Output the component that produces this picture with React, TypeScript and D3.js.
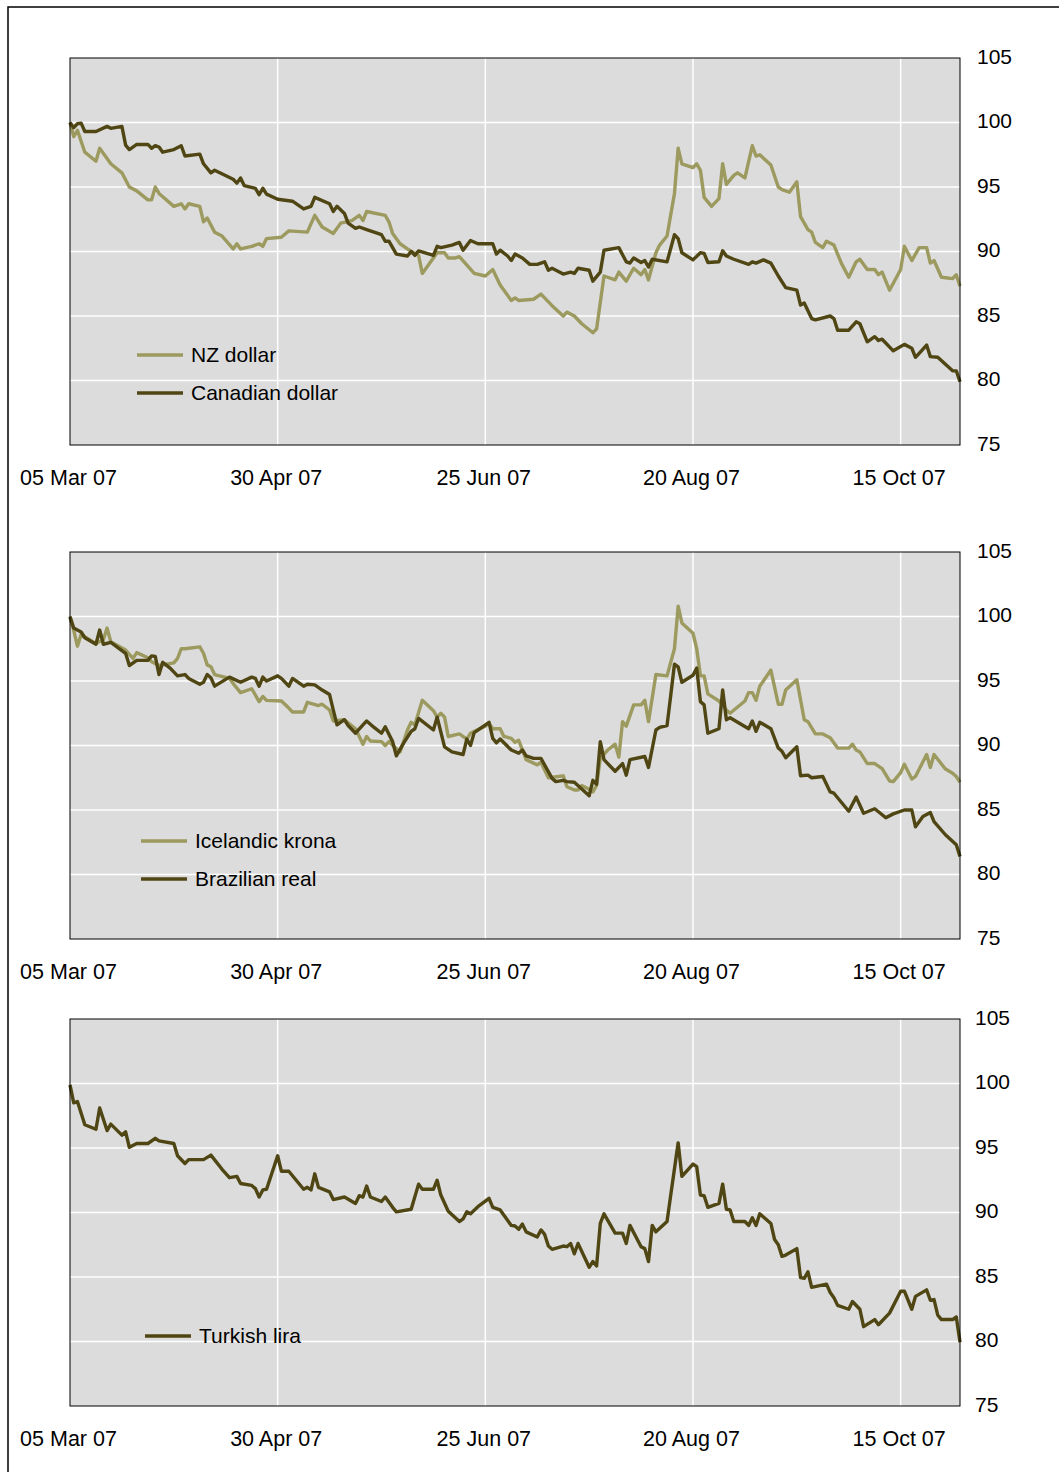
import { useEffect, useRef } from 'react'
import * as d3 from 'd3'

type Point = [number, number]   // [days after 05 Mar 07, index level]

const START = Date.UTC(2007, 2, 5)
const END_DAYS = 240
const X_TICK_DAYS = [0, 56, 112, 168, 224]
const Y_TICKS = [75, 80, 85, 90, 95, 100, 105]

const nzDollar: Point[] = [
  [0,100],[1,98.9],[2,99.4],[4,97.7],[7,97.0],[8,98.0],[11,96.8],[14,96.1],[16,95.0],[18,94.7],
  [21,94.0],[22,94.0],[23,95.0],[24,94.5],[28,93.5],[30,93.7],[31,93.3],[32,93.7],[35,93.5],[36,92.3],
  [37,92.6],[39,91.5],[41,91.2],[44,90.2],[45,90.6],[46,90.2],[49,90.4],[51,90.6],[52,90.4],[53,91.0],
  [57,91.1],[59,91.6],[64,91.5],[66,92.8],[68,91.9],[71,91.4],[73,92.2],[76,92.4],[78,92.8],[79,92.4],
  [80,93.1],[85,92.8],[86,92.3],[87,91.4],[89,90.6],[91,90.2],[94,89.7],[95,88.3],[99,89.9],[101,89.9],
  [102,89.5],[104,89.5],[105,89.6],[109,88.3],[112,88.1],[114,88.6],[116,87.4],[119,86.2],[120,86.4],[121,86.2],
  [125,86.3],[127,86.7],[130,85.8],[133,85.0],[134,85.3],[136,85.0],[138,84.4],[141,83.7],[142,84.0],[144,88.1],
  [147,87.8],[148,88.4],[150,87.7],[152,88.7],[154,88.2],[155,88.6],[156,87.8],[158,89.9],[159,90.5],[161,91.2],
  [163,94.5],[164,98.0],[165,96.8],[168,96.5],[169,96.8],[170,96.3],[171,94.2],[173,93.5],[175,94.1],[176,96.8],
  [177,95.2],[179,95.9],[180,96.1],[182,95.7],[184,98.2],[185,97.4],[186,97.5],[189,96.7],[191,95.0],[192,94.8],
  [194,94.6],[196,95.4],[197,92.7],[199,91.7],[200,91.5],[201,90.7],[203,90.3],[204,90.8],[206,90.5],[208,89.1],
  [210,88.0],[212,89.2],[213,89.4],[215,88.6],[217,88.6],[218,88.2],[219,88.4],[221,87.0],[224,88.6],[225,90.4],
  [227,89.3],[229,90.3],[231,90.3],[232,89.1],[233,89.3],[235,88.0],[238,87.9],[239,88.2],[240,87.3],
]

const canadianDollar: Point[] = [
  [0,100],[1,99.6],[2,99.9],[3,99.95],[4,99.3],[7,99.3],[10,99.7],[11,99.55],[14,99.7],[15,98.25],
  [16,97.9],[18,98.3],[21,98.3],[22,98.0],[23,98.2],[24,98.1],[25,97.7],[28,97.9],[30,98.2],[31,97.4],
  [35,97.55],[36,96.8],[38,96.1],[39,96.3],[44,95.6],[45,95.3],[46,95.7],[47,95.1],[50,94.9],[51,94.4],
  [52,94.9],[53,94.45],[56,94.05],[60,93.9],[63,93.3],[65,93.5],[66,94.2],[70,93.7],[71,93.1],[72,93.5],
  [74,92.95],[75,92.2],[77,91.8],[78,91.9],[80,91.7],[84,91.3],[85,90.8],[86,90.8],[88,89.8],[91,89.65],
  [92,90.0],[93,89.7],[94,90.05],[98,89.7],[99,90.4],[100,90.3],[103,90.5],[105,90.7],[106,90.1],[108,90.85],
  [110,90.6],[114,90.6],[115,89.8],[116,90.1],[118,89.65],[119,89.3],[120,89.8],[122,89.5],[124,89.0],[126,89.0],
  [128,89.2],[129,88.55],[130,88.7],[133,88.25],[135,88.4],[136,88.3],[137,88.7],[140,88.55],[141,87.7],[143,88.4],
  [144,90.1],[148,90.3],[150,89.2],[151,89.1],[152,89.5],[154,89.15],[155,89.3],[156,88.8],[157,89.4],[161,89.2],
  [163,91.3],[164,91.0],[165,89.9],[168,89.35],[170,89.9],[171,89.85],[172,89.15],[175,89.2],[176,90.05],[177,89.65],
  [179,89.4],[183,89.0],[184,89.2],[185,89.1],[187,89.35],[189,89.1],[191,88.1],[193,87.2],[196,87.0],[197,85.85],
  [198,86.0],[200,84.8],[201,84.7],[205,85.0],[206,84.8],[207,83.9],[210,83.9],[212,84.55],[213,84.4],[215,83.0],
  [217,83.4],[218,83.1],[219,83.2],[222,82.3],[225,82.8],[227,82.5],[228,81.8],[231,82.75],[232,81.85],[234,81.8],
  [238,80.75],[239,80.75],[240,79.9],
]

const icelandicKrona: Point[] = [
  [0,99.9],[1,98.95],[2,97.7],[3,98.6],[7,97.9],[9,98.2],[10,99.1],[11,98.05],[15,97.4],[17,96.75],
  [18,97.2],[21,96.8],[22,96.5],[24,96.2],[28,96.4],[29,96.75],[30,97.5],[31,97.5],[35,97.65],[36,97.15],
  [37,96.25],[38,96.1],[39,95.5],[43,95.2],[44,94.8],[46,94.1],[49,94.4],[51,93.4],[52,93.8],[53,93.5],
  [57,93.45],[59,92.9],[60,92.6],[63,92.6],[64,93.35],[67,93.1],[68,93.2],[70,92.75],[71,91.9],[74,92.0],
  [77,91.3],[79,90.1],[80,90.7],[81,90.35],[84,90.3],[85,90.0],[86,90.3],[89,89.5],[91,91.2],[92,91.8],
  [93,91.6],[95,93.5],[98,92.7],[99,92.2],[100,92.5],[101,92.2],[102,90.7],[105,90.9],[107,90.5],[108,90.95],
  [112,91.5],[113,91.7],[114,91.3],[116,91.3],[117,90.7],[119,90.55],[120,90.25],[121,90.4],[123,88.9],[126,88.5],
  [127,88.7],[129,87.5],[133,87.65],[134,86.8],[136,86.55],[137,86.55],[138,86.9],[140,86.6],[141,86.4],[142,86.9],
  [143,89.0],[145,89.65],[147,90.1],[148,89.1],[149,91.85],[150,91.5],[152,93.15],[154,93.15],[155,93.5],[156,91.85],
  [158,95.5],[161,95.4],[163,97.5],[164,100.8],[165,99.5],[168,98.7],[169,97.5],[170,95.4],[171,95.4],[172,94.0],
  [175,93.45],[177,92.75],[178,92.5],[182,93.45],[183,94.1],[184,94.1],[185,93.5],[186,94.6],[189,95.85],[191,93.2],
  [192,93.2],[193,94.3],[196,95.1],[198,92.0],[199,91.85],[201,90.9],[203,90.9],[205,90.6],[207,89.8],[210,89.8],
  [211,90.1],[212,89.65],[213,89.5],[215,88.6],[217,88.6],[219,88.2],[221,87.25],[222,87.2],[224,87.9],[225,88.55],
  [227,87.4],[228,87.6],[231,89.3],[232,88.3],[233,89.3],[236,88.2],[238,87.85],[239,87.6],[240,87.15],
]

const brazilianReal: Point[] = [
  [0,100],[1,99.1],[3,98.8],[4,98.35],[7,97.85],[8,98.95],[9,97.85],[11,98.0],[15,97.15],[16,96.2],
  [18,96.6],[21,96.6],[22,96.95],[23,96.9],[24,95.5],[25,96.45],[27,96.0],[29,95.4],[31,95.5],[32,95.2],
  [35,94.75],[36,94.9],[37,95.5],[38,95.25],[39,94.6],[43,95.3],[46,94.9],[49,95.3],[50,95.2],[51,94.6],
  [52,95.3],[53,95.0],[56,95.4],[57,95.2],[59,94.6],[60,95.2],[63,94.6],[64,94.75],[66,94.7],[68,94.3],
  [70,93.95],[71,92.75],[72,91.6],[74,92.0],[75,91.55],[77,90.95],[79,91.6],[80,91.9],[82,91.4],[84,90.95],
  [85,91.45],[87,90.3],[88,89.2],[90,90.2],[92,91.1],[93,91.3],[94,92.1],[98,91.2],[99,92.2],[101,89.9],
  [103,89.5],[106,89.3],[107,90.5],[108,90.0],[109,91.0],[113,91.8],[114,90.55],[115,90.2],[116,90.5],[119,89.65],
  [121,89.4],[122,89.65],[123,89.2],[125,89.0],[127,89.0],[130,87.45],[131,87.2],[133,87.3],[134,87.2],[136,87.15],
  [140,86.1],[141,87.3],[142,87.0],[143,90.3],[144,88.9],[147,88.0],[149,88.6],[150,87.7],[151,88.9],[155,89.15],
  [156,88.3],[158,91.2],[159,91.4],[161,91.55],[162,93.9],[163,96.3],[164,96.1],[165,94.9],[168,95.45],[169,96.0],
  [170,93.4],[171,93.15],[172,90.95],[175,91.3],[176,94.3],[177,92.0],[178,92.15],[183,91.3],[184,91.9],[185,91.1],
  [186,91.8],[189,91.3],[191,89.8],[192,89.55],[193,89.05],[196,89.9],[197,87.65],[199,87.7],[200,87.5],[203,87.6],
  [205,86.4],[206,86.3],[210,84.9],[212,86.0],[214,84.75],[217,85.1],[220,84.4],[222,84.7],[225,85.0],[227,85.0],
  [228,83.7],[230,84.5],[232,84.8],[233,84.1],[236,83.1],[239,82.3],[240,81.4],
]

const turkishLira: Point[] = [
  [0,99.9],[1,98.5],[2,98.6],[4,96.8],[7,96.45],[8,98.1],[10,96.35],[11,96.85],[14,96.0],[15,96.25],
  [16,95.05],[18,95.35],[21,95.35],[23,95.75],[24,95.55],[28,95.35],[29,94.4],[31,93.8],[32,94.1],[36,94.1],
  [38,94.45],[41,93.35],[43,92.7],[45,92.8],[46,92.25],[49,92.1],[50,91.85],[51,91.2],[52,91.75],[53,91.8],
  [56,94.4],[57,93.2],[59,93.2],[63,91.8],[64,91.95],[65,91.75],[66,93.0],[67,91.95],[70,91.6],[71,91.0],
  [74,91.2],[77,90.7],[78,91.3],[79,91.2],[80,92.05],[81,91.2],[84,90.85],[85,91.2],[87,90.4],[88,90.05],
  [92,90.25],[94,92.2],[95,91.8],[98,91.8],[99,92.5],[100,91.35],[102,90.1],[105,89.3],[106,89.5],[107,90.05],
  [108,89.9],[110,90.45],[113,91.1],[114,90.4],[116,90.2],[119,89.0],[120,88.95],[121,88.7],[122,89.1],[123,88.5],
  [126,88.1],[127,88.65],[128,88.3],[129,87.4],[130,87.15],[133,87.4],[134,87.35],[135,87.6],[136,86.8],[137,87.6],
  [140,85.75],[141,86.2],[142,85.85],[143,89.15],[144,89.9],[147,88.4],[149,88.4],[150,87.6],[151,89.0],[154,87.35],
  [155,87.2],[156,86.2],[157,89.0],[158,88.5],[161,89.3],[162,91.35],[164,95.4],[165,92.8],[168,93.75],[169,93.55],
  [170,91.35],[171,91.3],[172,90.4],[175,90.7],[176,92.2],[177,90.25],[178,90.2],[179,89.3],[182,89.3],[183,89.0],
  [184,89.6],[185,89.0],[186,89.9],[189,89.15],[190,87.9],[191,87.5],[192,86.6],[193,86.7],[196,87.2],[197,84.95],
  [198,84.9],[199,85.4],[200,84.2],[204,84.45],[205,83.8],[206,83.4],[207,82.8],[210,82.5],[211,83.1],[213,82.5],
  [214,81.15],[217,81.7],[218,81.3],[221,82.2],[224,83.9],[225,83.9],[227,82.5],[228,83.5],[231,84.0],[232,83.2],
  [233,83.25],[234,82.05],[235,81.7],[238,81.7],[239,81.9],[240,79.95],
]

const LIGHT = '#9c9a5e'
const DARK  = '#4f4613'
const FONT  = '"Liberation Sans", Arial, sans-serif'

const W = 1059
const H = 1472
const LEFT = 70
const RIGHT = 960
const PANEL_H = 387

interface Series { label: string; data: Point[]; color: string }
interface Panel  { top: number; lines: Series[]; legendX: number; legendY: number; yPad: number }

const panels: Panel[] = [
  { top: 58,   legendX: 137, legendY: 355,  yPad: 17, lines: [
    { label: 'NZ dollar',       data: nzDollar,       color: LIGHT },
    { label: 'Canadian dollar', data: canadianDollar, color: DARK  },
  ] },
  { top: 552,  legendX: 141, legendY: 841,  yPad: 17, lines: [
    { label: 'Icelandic krona', data: icelandicKrona, color: LIGHT },
    { label: 'Brazilian real',  data: brazilianReal,  color: DARK  },
  ] },
  { top: 1019, legendX: 145, legendY: 1336, yPad: 15, lines: [
    { label: 'Turkish lira',    data: turkishLira,    color: DARK  },
  ] },
]

const toDate = (d: number) => new Date(START + d * 864e5)

export default function App() {
  const svgRef = useRef<SVGSVGElement>(null)

  useEffect(() => {
    if (!svgRef.current) return
    const svg = d3.select(svgRef.current)
    svg.selectAll('*').remove()

    const x   = d3.scaleUtc().domain([toDate(0), toDate(END_DAYS)]).range([LEFT, RIGHT])
    const fmt = d3.utcFormat('%d %b %y')

    svg.append('rect').attr('width', W).attr('height', H).attr('fill', '#fff')

    // outer frame (right and bottom edges fall outside the picture)
    svg.append('path')
      .attr('d', `M8,${H} L8,7 L${W},7`)
      .attr('fill', 'none').attr('stroke', '#000').attr('stroke-width', 1.5)

    panels.forEach(p => {
      const bottom = p.top + PANEL_H
      const y = d3.scaleLinear().domain([75, 105]).range([bottom, p.top])
      const g = svg.append('g')

      g.append('rect')
        .attr('x', LEFT).attr('y', p.top).attr('width', RIGHT - LEFT).attr('height', PANEL_H)
        .attr('fill', '#dcdcdc')

      // grid
      g.append('g').selectAll('line')
        .data(Y_TICKS.slice(1, -1))
        .join('line')
        .attr('x1', LEFT).attr('x2', RIGHT)
        .attr('y1', d => y(d)).attr('y2', d => y(d))
        .attr('stroke', '#fff').attr('stroke-width', 1.5)

      g.append('g').selectAll('line')
        .data(X_TICK_DAYS.slice(1))
        .join('line')
        .attr('x1', d => x(toDate(d))).attr('x2', d => x(toDate(d)))
        .attr('y1', p.top).attr('y2', bottom)
        .attr('stroke', '#fff').attr('stroke-width', 1.5)

      // series
      const line = d3.line<Point>()
        .x(d => x(toDate(d[0])))
        .y(d => y(d[1]))

      p.lines.forEach(s => {
        g.append('path')
          .attr('d', line(s.data))
          .attr('fill', 'none')
          .attr('stroke', s.color)
          .attr('stroke-width', 3.4)
          .attr('stroke-linejoin', 'round')
      })

      // plot border
      g.append('rect')
        .attr('x', LEFT).attr('y', p.top).attr('width', RIGHT - LEFT).attr('height', PANEL_H)
        .attr('fill', 'none').attr('stroke', '#000').attr('stroke-width', 1)

      // right axis
      g.append('g')
        .attr('transform', `translate(${RIGHT},-1.5)`)
        .call(d3.axisRight(y).tickValues(Y_TICKS).tickSize(0).tickPadding(p.yPad))
        .call(sel => {
          sel.select('.domain').remove()
          sel.selectAll('text').attr('font-size', 21).attr('font-family', FONT).attr('fill', '#000')
        })

      // bottom axis
      g.append('g')
        .attr('transform', `translate(-2,${bottom})`)
        .call(d3.axisBottom(x)
          .tickValues(X_TICK_DAYS.map(toDate))
          .tickFormat(d => fmt(d as Date))
          .tickSize(0).tickPadding(25))
        .call(sel => {
          sel.select('.domain').remove()
          sel.selectAll('text').attr('font-size', 21.5).attr('font-family', FONT).attr('fill', '#000')
        })

      // legend
      const legend = g.append('g').attr('transform', `translate(${p.legendX},${p.legendY})`)
      p.lines.forEach((s, i) => {
        legend.append('line')
          .attr('x1', 0).attr('x2', 46).attr('y1', i * 38).attr('y2', i * 38)
          .attr('stroke', s.color).attr('stroke-width', 3.4)
        legend.append('text')
          .attr('x', 54).attr('y', i * 38).attr('dy', '0.35em')
          .attr('font-size', 21).attr('font-family', FONT).attr('fill', '#000')
          .text(s.label)
      })
    })
  }, [])

  return (
    <div style={{ position: 'absolute', left: 0, top: 0 }}>
      <svg ref={svgRef} width={W} height={H} style={{ display: 'block' }} />
    </div>
  )
}
